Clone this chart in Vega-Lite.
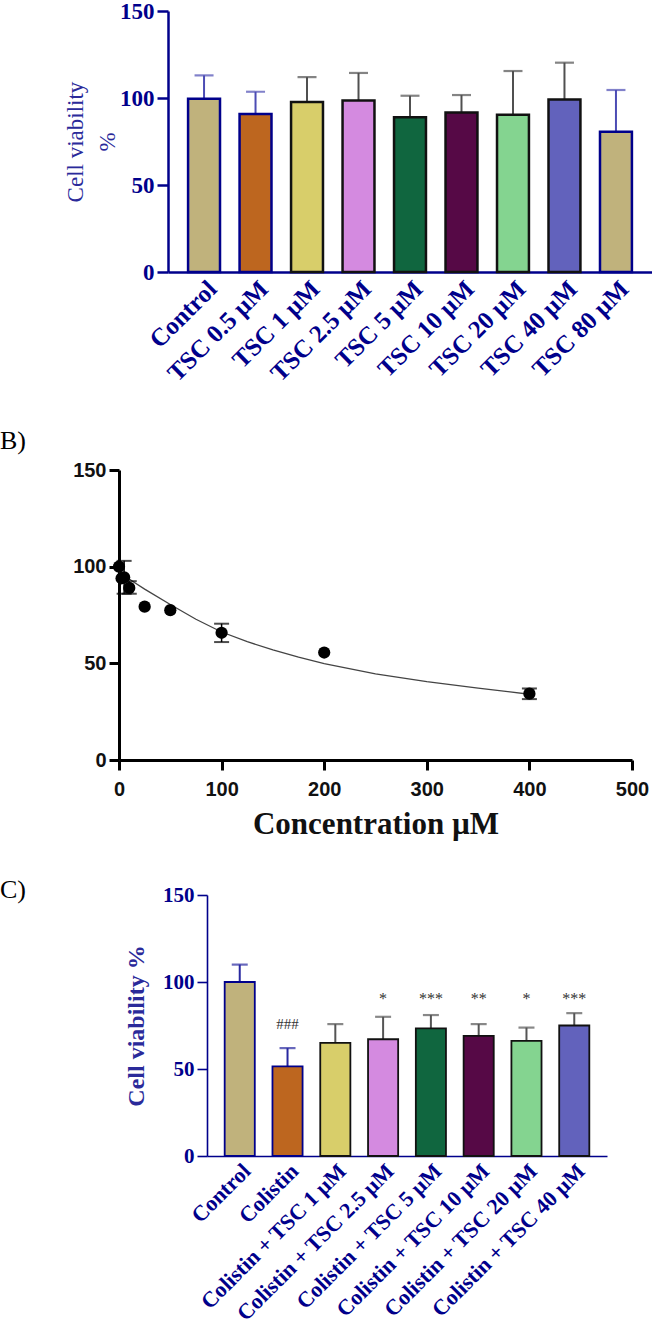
{
 "$schema": "https://vega.github.io/schema/vega-lite/v6.json",
 "padding": 0,
 "background": "white",
 "config": {"view": {"stroke": null}, "font": "Liberation Serif"},
 "resolve": {"scale": {"color": "independent", "fill": "independent", "stroke": "independent"}},
 "datasets": {
  "a": [
   {"g": "Control", "v": 99.5, "hi": 113},
   {"g": "TSC 0.5 µM", "v": 90.8, "hi": 103.6},
   {"g": "TSC 1 µM", "v": 97.7, "hi": 112},
   {"g": "TSC 2.5 µM", "v": 98.5, "hi": 114.4},
   {"g": "TSC 5 µM", "v": 88.9, "hi": 101.3},
   {"g": "TSC 10 µM", "v": 91.6, "hi": 101.7},
   {"g": "TSC 20 µM", "v": 90.4, "hi": 115.5},
   {"g": "TSC 40 µM", "v": 99.2, "hi": 120.3},
   {"g": "TSC 80 µM", "v": 80.6, "hi": 104.6}
  ],
  "bfit": [
   {"conc": 0, "v": 97}, {"conc": 5, "v": 95.5}, {"conc": 10, "v": 93.6}, {"conc": 15, "v": 91.8},
   {"conc": 25, "v": 88.4}, {"conc": 50, "v": 80.4}, {"conc": 75, "v": 72.8}, {"conc": 100, "v": 66.2},
   {"conc": 125, "v": 61.2}, {"conc": 150, "v": 57}, {"conc": 175, "v": 53.2}, {"conc": 200, "v": 49.9},
   {"conc": 250, "v": 44.6}, {"conc": 300, "v": 40.5}, {"conc": 350, "v": 37.2}, {"conc": 400, "v": 34}
  ],
  "bpts": [
   {"conc": 0, "v": 100, "lo": null, "hi": null},
   {"conc": 2.5, "v": 94, "lo": null, "hi": null},
   {"conc": 5, "v": 94.5, "lo": 86, "hi": 103},
   {"conc": 10, "v": 89, "lo": 86, "hi": 92.5},
   {"conc": 25, "v": 79.3, "lo": null, "hi": null},
   {"conc": 50, "v": 77.5, "lo": null, "hi": null},
   {"conc": 100, "v": 65.8, "lo": 61, "hi": 70.5},
   {"conc": 200, "v": 55.6, "lo": null, "hi": null},
   {"conc": 400, "v": 34.3, "lo": 31.5, "hi": 37}
  ],
  "c": [
   {"g": "Control", "v": 100, "hi": 110, "sig": ""},
   {"g": "Colistin", "v": 51.5, "hi": 62, "sig": "###"},
   {"g": "Colistin + TSC 1 µM", "v": 65, "hi": 75.8, "sig": ""},
   {"g": "Colistin + TSC 2.5 µM", "v": 67.1, "hi": 80, "sig": "*"},
   {"g": "Colistin + TSC 5 µM", "v": 73.3, "hi": 81, "sig": "***"},
   {"g": "Colistin + TSC 10 µM", "v": 69, "hi": 75.8, "sig": "**"},
   {"g": "Colistin + TSC 20 µM", "v": 66.2, "hi": 73.8, "sig": "*"},
   {"g": "Colistin + TSC 40 µM", "v": 75, "hi": 82.1, "sig": "***"}
  ]
 },
 "spacing": 42,
 "vconcat": [
  {
   "width": 533, "height": 261,
   "data": {"name": "a"},
   "encoding": {
    "x": {"field": "g", "type": "nominal", "sort": null,
     "scale": {"range": [49, 533], "paddingInner": 0.38, "paddingOuter": 0.39},
     "axis": {"title": null, "ticks": false, "domainColor": "#00008b", "domainWidth": 2.5,
      "labelAngle": -45, "labelFont": "Liberation Serif", "labelFontWeight": "bold", "labelFontSize": 25,
      "labelColor": "#00008b", "labelPadding": 4, "labelLimit": 300, "labelOverlap": false}}
   },
   "layer": [
    {"mark": {"type": "rule", "strokeWidth": 2},
     "encoding": {
      "y": {"field": "v", "type": "quantitative", "scale": {"domain": [0, 150], "nice": false},
       "axis": {"title": ["Cell viability", "%"], "offset": -49, "values": [0, 50, 100, 150], "grid": false,
        "domainColor": "#00008b", "domainWidth": 2.5, "tickColor": "#00008b", "tickWidth": 2.5, "tickSize": 11,
        "labelFont": "Liberation Serif", "labelFontWeight": "bold", "labelFontSize": 23, "labelColor": "#00008b", "labelPadding": 3,
        "titleFont": "Liberation Serif", "titleFontWeight": "normal", "titleFontSize": 23, "titleColor": "#2a2a9a",
        "titlePadding": 0, "titleLineHeight": 32}},
      "y2": {"field": "hi"},
      "color": {"field": "g", "type": "nominal", "legend": null,
       "scale": {"domain": ["Control", "TSC 0.5 µM", "TSC 1 µM", "TSC 2.5 µM", "TSC 5 µM", "TSC 10 µM", "TSC 20 µM", "TSC 40 µM", "TSC 80 µM"],
        "range": ["#4c4cb4", "#4c4cb4", "#505050", "#505050", "#505050", "#505050", "#505050", "#505050", "#4c4cb4"]}}
     }},
    {"mark": {"type": "tick", "size": 19, "thickness": 2.2},
     "encoding": {"y": {"field": "hi", "type": "quantitative"},
      "color": {"field": "g", "type": "nominal", "legend": null}}},
    {"mark": {"type": "bar", "strokeWidth": 2.5},
     "encoding": {"y": {"field": "v", "type": "quantitative"},
      "fill": {"field": "g", "type": "nominal", "legend": null,
       "scale": {"domain": ["Control", "TSC 0.5 µM", "TSC 1 µM", "TSC 2.5 µM", "TSC 5 µM", "TSC 10 µM", "TSC 20 µM", "TSC 40 µM", "TSC 80 µM"],
        "range": ["#c0b27c", "#bd661f", "#d8ce6a", "#d48ae0", "#10663f", "#560946", "#84d490", "#6262bc", "#c0b27c"]}},
      "stroke": {"field": "g", "type": "nominal", "legend": null,
       "scale": {"domain": ["Control", "TSC 0.5 µM", "TSC 1 µM", "TSC 2.5 µM", "TSC 5 µM", "TSC 10 µM", "TSC 20 µM", "TSC 40 µM", "TSC 80 µM"],
        "range": ["#00008b", "#00008b", "#111111", "#111111", "#111111", "#111111", "#111111", "#111111", "#00008b"]}}}}
   ]
  },
  {
   "spacing": 38,
   "resolve": {"scale": {"color": "independent", "fill": "independent", "stroke": "independent"}},
   "vconcat": [
    {
     "width": 513, "height": 290,
     "title": {"text": "B)", "anchor": "start", "frame": "group", "dx": -119, "offset": 6,
      "font": "Liberation Serif", "fontSize": 26, "fontWeight": "normal", "color": "#000000"},
     "layer": [
      {"data": {"name": "bfit"}, "mark": {"type": "line", "color": "#444444", "strokeWidth": 1.3},
       "encoding": {
        "x": {"field": "conc", "type": "quantitative", "scale": {"domain": [0, 500], "nice": false},
         "axis": {"title": "Concentration µM", "values": [0, 100, 200, 300, 400, 500], "grid": false,
          "domainColor": "#000000", "domainWidth": 3, "tickColor": "#000000", "tickWidth": 3, "tickSize": 10,
          "labelFont": "Liberation Sans", "labelFontWeight": "bold", "labelFontSize": 20, "labelColor": "#111111", "labelPadding": 9,
          "labelFlush": false,
          "titleFont": "Liberation Serif", "titleFontWeight": "bold", "titleFontSize": 31, "titleColor": "#111111", "titlePadding": 10}},
        "y": {"field": "v", "type": "quantitative", "scale": {"domain": [0, 150], "nice": false},
         "axis": {"title": null, "values": [0, 50, 100, 150], "grid": false,
          "domainColor": "#000000", "domainWidth": 3, "tickColor": "#000000", "tickWidth": 3, "tickSize": 10,
          "labelFont": "Liberation Sans", "labelFontWeight": "bold", "labelFontSize": 20, "labelColor": "#111111", "labelPadding": 3}}
       }},
      {"data": {"name": "bpts"}, "mark": {"type": "rule", "color": "#000000", "strokeWidth": 1.5},
       "encoding": {"x": {"field": "conc", "type": "quantitative"}, "y": {"field": "lo", "type": "quantitative"}, "y2": {"field": "hi"}}},
      {"data": {"name": "bpts"}, "mark": {"type": "tick", "orient": "horizontal", "size": 15, "thickness": 2, "color": "#000000"},
       "encoding": {"x": {"field": "conc", "type": "quantitative"}, "y": {"field": "lo", "type": "quantitative"}}},
      {"data": {"name": "bpts"}, "mark": {"type": "tick", "orient": "horizontal", "size": 15, "thickness": 2, "color": "#000000"},
       "encoding": {"x": {"field": "conc", "type": "quantitative"}, "y": {"field": "hi", "type": "quantitative"}}},
      {"data": {"name": "bpts"}, "mark": {"type": "point", "filled": true, "size": 150, "color": "#000000", "opacity": 1},
       "encoding": {"x": {"field": "conc", "type": "quantitative"}, "y": {"field": "v", "type": "quantitative"}}}
     ]
    },
    {
     "width": 488, "height": 261,
     "title": {"text": "C)", "anchor": "start", "frame": "group", "dx": -119, "offset": -19,
      "font": "Liberation Serif", "fontSize": 26, "fontWeight": "normal", "color": "#000000"},
     "data": {"name": "c"},
     "encoding": {
      "x": {"field": "g", "type": "nominal", "sort": null,
       "scale": {"range": [88, 488], "paddingInner": 0.37, "paddingOuter": 0.37},
       "axis": {"title": null, "ticks": false, "domainColor": "#00008b", "domainWidth": 1.6,
        "labelAngle": -45, "labelFont": "Liberation Serif", "labelFontWeight": "bold", "labelFontSize": 22,
        "labelColor": "#00008b", "labelPadding": 4, "labelLimit": 400, "labelOverlap": false}}
     },
     "layer": [
      {"mark": {"type": "rule", "strokeWidth": 2},
       "encoding": {
        "y": {"field": "v", "type": "quantitative", "scale": {"domain": [0, 150], "nice": false},
         "axis": {"title": "Cell viability %", "offset": -88, "values": [0, 50, 100, 150], "grid": false,
          "domainColor": "#00008b", "domainWidth": 1.6, "tickColor": "#00008b", "tickWidth": 1.6, "tickSize": 10,
          "labelFont": "Liberation Serif", "labelFontWeight": "bold", "labelFontSize": 21, "labelColor": "#00008b", "labelPadding": 3,
          "titleFont": "Liberation Serif", "titleFontWeight": "bold", "titleFontSize": 24, "titleColor": "#2a2a9a", "titlePadding": 14}},
        "y2": {"field": "hi"},
        "color": {"field": "g", "type": "nominal", "legend": null,
         "scale": {"domain": ["Control", "Colistin", "Colistin + TSC 1 µM", "Colistin + TSC 2.5 µM", "Colistin + TSC 5 µM", "Colistin + TSC 10 µM", "Colistin + TSC 20 µM", "Colistin + TSC 40 µM"],
          "range": ["#2828a0", "#2828a0", "#555555", "#555555", "#555555", "#555555", "#555555", "#555555"]}}
       }},
      {"mark": {"type": "tick", "size": 16, "thickness": 2.2},
       "encoding": {"y": {"field": "hi", "type": "quantitative"},
        "color": {"field": "g", "type": "nominal", "legend": null}}},
      {"mark": {"type": "bar", "strokeWidth": 1.8},
       "encoding": {"y": {"field": "v", "type": "quantitative"},
        "fill": {"field": "g", "type": "nominal", "legend": null,
         "scale": {"domain": ["Control", "Colistin", "Colistin + TSC 1 µM", "Colistin + TSC 2.5 µM", "Colistin + TSC 5 µM", "Colistin + TSC 10 µM", "Colistin + TSC 20 µM", "Colistin + TSC 40 µM"],
          "range": ["#c0b27c", "#bd661f", "#d8ce6a", "#d48ae0", "#10663f", "#560946", "#84d490", "#6262bc"]}},
        "stroke": {"field": "g", "type": "nominal", "legend": null,
         "scale": {"domain": ["Control", "Colistin", "Colistin + TSC 1 µM", "Colistin + TSC 2.5 µM", "Colistin + TSC 5 µM", "Colistin + TSC 10 µM", "Colistin + TSC 20 µM", "Colistin + TSC 40 µM"],
          "range": ["#00008b", "#00008b", "#111111", "#111111", "#111111", "#111111", "#111111", "#111111"]}}}},
      {"transform": [{"filter": "datum.g == 'Colistin'"}],
       "mark": {"type": "text", "font": "Liberation Serif", "fontSize": 15, "color": "#333333", "baseline": "middle"},
       "encoding": {"y": {"datum": 76}, "text": {"field": "sig"}}},
      {"transform": [{"filter": "datum.g != 'Colistin' && datum.sig != ''"}],
       "mark": {"type": "text", "font": "Liberation Serif", "fontSize": 16, "color": "#333333", "baseline": "middle"},
       "encoding": {"y": {"datum": 90}, "text": {"field": "sig"}}}
     ]
    }
   ]
  }
 ]
}
